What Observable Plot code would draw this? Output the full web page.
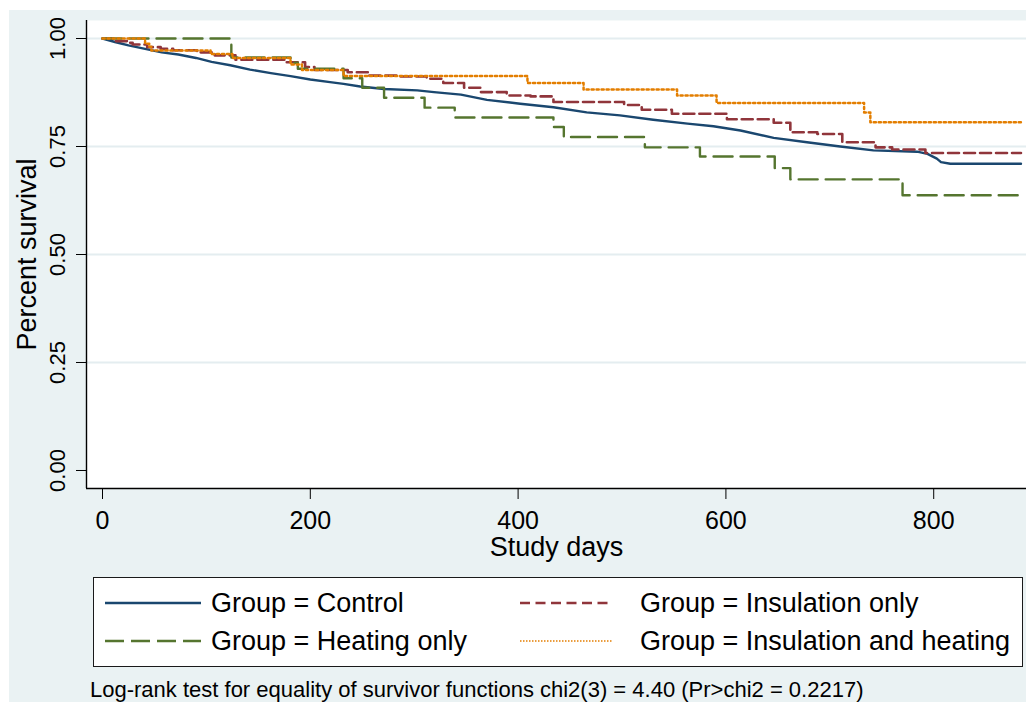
<!DOCTYPE html>
<html>
<head>
<meta charset="utf-8">
<script src="https://cdn.jsdelivr.net/npm/d3@7"></script>
<script src="https://cdn.jsdelivr.net/npm/@observablehq/plot@0.6"></script>
<style>
  html, body { margin: 0; padding: 0; background: #ffffff; }
  body { width: 1026px; height: 702px; position: relative; overflow: hidden; font-family: "Liberation Sans", Arial, sans-serif; }
  #bg { position: absolute; left: 9px; top: 10px; width: 1017px; height: 692px; background: #eaf2f3; }
  #chart { position: absolute; left: 10px; top: 10px; }
  #legend { position: absolute; left: 93px; top: 577px; width: 930px; height: 90px; box-sizing: border-box; border: 1.6px solid #1a1a1a; background: #ffffff; }
  .item { position: absolute; height: 30px; display: flex; align-items: center; font-size: 27px; color: #000; white-space: nowrap; }
  .item svg { display: block; }
  #caption { position: absolute; left: 90px; top: 677px; font-size: 22px; color: #000; white-space: nowrap; }
</style>
</head>
<body>
<div id="bg"></div>
<div id="chart"></div>
<div id="legend"></div>
<div id="caption"></div>
<script>
// ---- Data ----
const groups = ["Group = Control", "Group = Insulation only", "Group = Heating only", "Group = Insulation and heating"];
const colors = ["#1a476f", "#90353b", "#55752f", "#e37e00"];

const controlDays = [0, 12, 25, 41, 57, 73, 90, 105, 123, 142, 162, 181, 200, 219, 232, 248, 271, 303, 319, 345, 370, 402, 434, 466, 498, 530, 563, 588, 614, 646, 678, 710, 742, 784, 794, 803, 807, 816, 884];
const controlSurv = [1.000, 0.992, 0.984, 0.976, 0.968, 0.963, 0.955, 0.946, 0.938, 0.928, 0.920, 0.913, 0.905, 0.899, 0.895, 0.889, 0.883, 0.880, 0.876, 0.870, 0.858, 0.849, 0.841, 0.829, 0.822, 0.812, 0.803, 0.797, 0.787, 0.770, 0.760, 0.750, 0.741, 0.738, 0.733, 0.722, 0.714, 0.710, 0.710];

const insulationDays = [0, 12, 24, 29, 43, 56, 68, 91, 105, 108, 128, 176, 195, 204, 236, 256, 287, 312, 328, 348, 364, 389, 412, 434, 502, 519, 548, 601, 646, 662, 688, 712, 744, 760, 792, 884];
const insulationSurv = [1.000, 0.994, 0.990, 0.986, 0.980, 0.976, 0.973, 0.968, 0.964, 0.961, 0.951, 0.945, 0.934, 0.927, 0.922, 0.914, 0.912, 0.907, 0.897, 0.886, 0.876, 0.868, 0.866, 0.853, 0.846, 0.835, 0.826, 0.813, 0.805, 0.783, 0.779, 0.760, 0.748, 0.743, 0.735, 0.735];

const heatingDays = [0, 124, 181, 188, 232, 250, 271, 310, 339, 434, 444, 522, 575, 647, 662, 770, 884];
const heatingSurv = [1.000, 0.956, 0.944, 0.930, 0.908, 0.886, 0.863, 0.840, 0.817, 0.795, 0.772, 0.748, 0.727, 0.700, 0.674, 0.637, 0.637];

const bothDays = [0, 41, 45, 47, 104, 125, 181, 192, 232, 409, 463, 553, 591, 733, 739, 884];
const bothSurv = [1.000, 0.988, 0.981, 0.972, 0.964, 0.955, 0.940, 0.927, 0.913, 0.897, 0.882, 0.868, 0.851, 0.829, 0.806, 0.806];

const xTicks = [0, 200, 400, 600, 800];
const yTicks = [0, 0.25, 0.5, 0.75, 1];
const gridTicks = [0.25, 0.5, 0.75, 1];
const xTitle = "Study days";
const yTitle = "Percent survival";
const caption = "Log-rank test for equality of survivor functions chi2(3) = 4.40 (Pr>chi2 = 0.2217)";

// ---- Build rows ----
const rows = (days, surv) => days.map((d, i) => ({day: d, surv: surv[i]}));
const series = [
  {rows: rows(controlDays, controlSurv), curve: "linear", dash: null, width: 2.4, legendDash: null},
  {rows: rows(insulationDays, insulationSurv), curve: "step-after", dash: "11 5", width: 2.6, legendDash: "10 5.5"},
  {rows: rows(heatingDays, heatingSurv), curve: "step-after", dash: "19 8", width: 2.4, legendDash: "19 7"},
  {rows: rows(bothDays, bothSurv), curve: "step-after", dash: "2.2 2.8", width: 2.5, legendDash: "1.5 1.5"}
];

const xMin = -15.4, xMax = 889.3;
const yMin = -0.0417, yMax = 1.0417;

const chart = Plot.plot({
  width: 1016,
  height: 550,
  marginLeft: 76,
  marginRight: 0,
  marginTop: 10,
  marginBottom: 72,
  style: {background: "transparent", fontFamily: "'Liberation Sans', Arial, sans-serif", color: "#000", overflow: "visible"},
  x: {domain: [xMin, xMax], label: null},
  y: {domain: [yMin, yMax], label: null},
  marks: [
    Plot.frame({fill: "#ffffff", stroke: null}),
    Plot.gridY(gridTicks, {stroke: "#e4edf0", strokeWidth: 2, strokeOpacity: 1}),
    ...series.map((s, i) => Plot.line(s.rows, {
      x: "day", y: "surv", stroke: colors[i], strokeWidth: s.width,
      strokeDasharray: s.dash, curve: s.curve
    })),
    Plot.ruleX([xMin], {stroke: "#000", strokeWidth: 1.4}),
    Plot.ruleY([yMin], {stroke: "#000", strokeWidth: 1.4}),
    Plot.axisY(yTicks, {anchor: "left", tickSize: 10, tickFormat: () => "", label: null, stroke: "#000"}),
    Plot.text(yTicks, {y: d => d, text: d => d3.format(".2f")(d), frameAnchor: "left", dx: -29, rotate: -90, fontSize: 22, fill: "#000", textAnchor: "middle", lineAnchor: "middle"}),
    Plot.axisX(xTicks, {anchor: "bottom", tickSize: 11, tickPadding: 12, fontSize: 25, label: null, stroke: "#000", fill: "#000"}),
    Plot.text([xTitle], {frameAnchor: "bottom", dy: 59, fontSize: 27, fill: "#000", textAnchor: "middle", lineAnchor: "middle"}),
    Plot.text([yTitle], {frameAnchor: "left", dx: -59, rotate: -90, fontSize: 27, fill: "#000", textAnchor: "middle", lineAnchor: "middle"})
  ]
});
document.getElementById("chart").appendChild(chart);
document.getElementById("caption").textContent = caption;

// ---- Legend ----
const legend = document.getElementById("legend");
const pos = [
  {left: 11, top: 10, w: 96, gap: 10},
  {left: 426, top: 10, w: 92, gap: 28},
  {left: 11, top: 48, w: 96, gap: 10},
  {left: 426, top: 48, w: 92, gap: 28}
];
groups.forEach((g, i) => {
  const it = document.createElement("div");
  it.className = "item";
  it.style.left = pos[i].left + "px";
  it.style.top = pos[i].top + "px";
  const s = series[i];
  const w = pos[i].w;
  it.innerHTML = `<svg width="${w}" height="10" style="margin-right:${pos[i].gap}px"><line x1="0" y1="5" x2="${w}" y2="5" stroke="${colors[i]}" stroke-width="${i === 3 ? 1.6 : 2.4}" ${s.legendDash ? `stroke-dasharray="${s.legendDash}"` : ""}/></svg><span>${g}</span>`;
  legend.appendChild(it);
});
</script>
</body>
</html>
